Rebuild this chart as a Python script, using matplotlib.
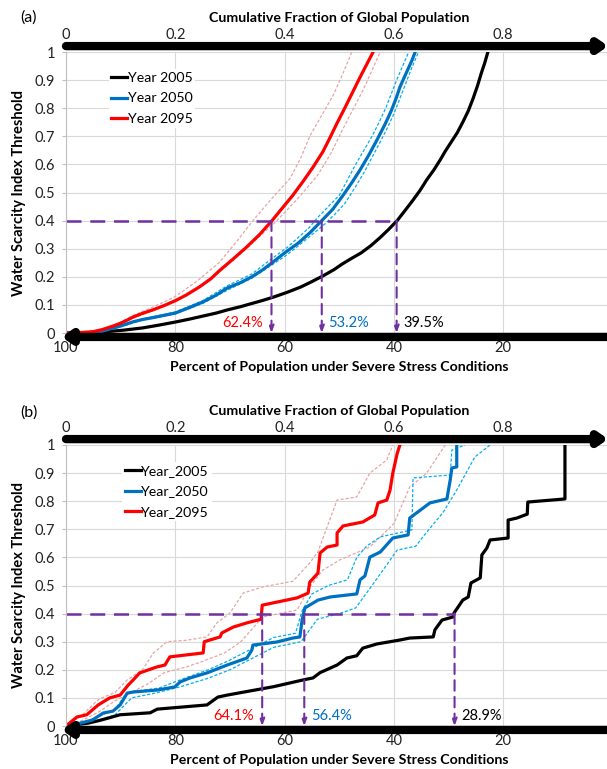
import matplotlib
matplotlib.use("Agg")
import matplotlib.pyplot as plt

plt.rcParams['font.family'] = ['Lato', 'DejaVu Sans']

# ---- panel (a) : smooth curves, x = percent of population, y = threshold
a_2005_x = [100, 96, 93, 89.5, 86, 83, 80, 77.5, 75, 72.5, 70.5, 68, 66, 64, 62, 59.5, 57, 55, 53, 51, 49.5, 47.8, 46,
            44.2, 42.5, 41, 39.4, 38, 36.5, 35.2, 34, 32.7, 31.5, 30.5, 29.5, 28.4, 27.4, 26.4, 25.5, 24.7, 24, 23.4, 22.8]
a_2005_y = [0, 0.001, 0.004, 0.01, 0.018, 0.028, 0.039, 0.049, 0.06, 0.071, 0.082, 0.094, 0.105, 0.116, 0.128, 0.145, 0.164,
            0.183, 0.203, 0.225, 0.245, 0.265, 0.285, 0.311, 0.34, 0.368, 0.4, 0.435, 0.473, 0.508, 0.545, 0.58, 0.617, 0.65,
            0.68, 0.713, 0.75, 0.79, 0.835, 0.88, 0.925, 0.96, 1.0]

a_2050_x = [100, 95, 93.8, 92, 90, 87.7, 86, 84, 82, 80, 77.5, 75, 72.5, 70.5, 68, 66, 64, 62.1, 60, 57.5, 55.3, 53.2,
            51.2, 49.3, 47.7, 46.2, 44.6, 43.1, 41.7, 40.5, 39.6, 38.9, 38.1, 37.4, 36.7, 36.1]
a_2050_y = [0, 0, 0.004, 0.014, 0.025, 0.04, 0.048, 0.055, 0.063, 0.071, 0.09, 0.11, 0.135, 0.16, 0.18, 0.2, 0.225, 0.253,
            0.285, 0.32, 0.358, 0.4, 0.44, 0.49, 0.535, 0.58, 0.633, 0.687, 0.74, 0.79, 0.835, 0.875, 0.91, 0.94, 0.97, 1.0]
a_2050_hi_x = [100, 93.8, 90, 86, 80, 75, 70.5, 66, 62.1, 59.5, 57.5, 55.5, 54, 52, 50, 48.5, 47, 45.5, 44, 42.7, 41.5, 40.5, 39.5, 38.4, 37.3]
a_2050_hi_y = [0, 0.005, 0.028, 0.05, 0.075, 0.115, 0.168, 0.21, 0.268, 0.305, 0.34, 0.375, 0.41, 0.45, 0.49, 0.545, 0.6, 0.65,
               0.7, 0.75, 0.8, 0.85, 0.9, 0.95, 1.0]
a_2050_lo_x = [100, 93.8, 90, 86, 80, 75, 70.5, 66, 62.1, 59.8, 57.5, 55, 52.5, 50.7, 49, 47.2, 45.5, 44, 42.5, 41.2, 40, 39, 38, 36.8, 35.5]
a_2050_lo_y = [0, 0.003, 0.022, 0.046, 0.068, 0.105, 0.152, 0.195, 0.245, 0.275, 0.31, 0.35, 0.39, 0.425, 0.46, 0.515, 0.57,
               0.625, 0.68, 0.73, 0.78, 0.83, 0.88, 0.94, 1.0]

a_2095_x = [100, 97, 95, 93.4, 91.5, 90, 88.8, 87.7, 86, 84, 82, 80, 78, 75.5, 73.5, 71.8, 69.5, 67, 64.6, 62.3, 60.4, 58.5,
            56.6, 54.8, 53, 51.7, 50.4, 49, 47.6, 46.2, 45, 43.8]
a_2095_y = [0, 0.002, 0.005, 0.012, 0.024, 0.035, 0.046, 0.057, 0.07, 0.083, 0.098, 0.115, 0.135, 0.165, 0.193, 0.224, 0.262,
            0.305, 0.35, 0.4, 0.445, 0.49, 0.54, 0.59, 0.645, 0.695, 0.747, 0.8, 0.855, 0.91, 0.955, 1.0]
a_2095_hi_x = [100, 96, 93, 90.5, 88, 84, 80, 76, 72, 69, 65.8, 62.5, 59, 57, 55.4, 53.2, 51, 49.3, 47.7]
a_2095_hi_y = [0, 0.003, 0.012, 0.033, 0.06, 0.093, 0.13, 0.185, 0.25, 0.32, 0.4, 0.475, 0.55, 0.625, 0.7, 0.775, 0.85, 0.925, 1.0]
a_2095_lo_x = [100, 96, 93, 90.5, 88, 84, 80, 76, 72, 67, 61.4, 57.5, 54, 51.5, 49.5, 47.5, 45.5, 44, 42.5]
a_2095_lo_y = [0, 0.002, 0.008, 0.027, 0.05, 0.08, 0.115, 0.16, 0.215, 0.3, 0.4, 0.48, 0.56, 0.64, 0.72, 0.795, 0.87, 0.935, 1.0]

# ---- panel (b) : stepped curves
b_2005_x = [100, 96, 93.8, 90.1, 84.6, 83.3, 74.2, 72.2, 70.5, 62, 56.6, 54.8, 53.5, 50.4, 48.6, 46.8, 45.7, 43.1, 38.9, 37.1,
            32.8, 32.5, 31.2, 29.2, 29.0, 27.4, 26.4, 25.9, 24.2, 23.9, 23.0, 22.4, 19.1, 19.1, 17.5, 15.6, 15.5, 8.7, 8.7]
b_2005_y = [0, 0.01, 0.02, 0.04, 0.047, 0.06, 0.075, 0.103, 0.11, 0.14, 0.164, 0.171, 0.19, 0.217, 0.242, 0.25, 0.277, 0.292, 0.306, 0.313,
            0.317, 0.342, 0.377, 0.388, 0.402, 0.448, 0.459, 0.509, 0.527, 0.609, 0.633, 0.662, 0.669, 0.733, 0.74, 0.754, 0.797, 0.808, 1.0]

b_2050_x = [100, 97.4, 95.2, 93.2, 91.4, 90.1, 88.8, 87.7, 83.3, 80.1, 79.1, 77.3, 74.2, 70.5, 66.9, 66.0, 65.8, 61.4, 58.5, 57.2,
            56.8, 56.3, 53.9, 51.7, 46.8, 46.2, 45.3, 44.4, 42.5, 40.2, 37.4, 37.1, 33.4, 30.3, 29.7, 29.4, 28.5, 28.5]
b_2050_y = [0, 0.01, 0.021, 0.046, 0.053, 0.075, 0.117, 0.121, 0.128, 0.139, 0.157, 0.171, 0.189, 0.217, 0.242, 0.27, 0.288, 0.299, 0.313, 0.317,
            0.377, 0.42, 0.448, 0.459, 0.47, 0.52, 0.534, 0.601, 0.619, 0.669, 0.68, 0.74, 0.794, 0.808, 0.875, 0.918, 0.922, 1.0]
b_2050_hi_x = [100, 95, 91, 88.8, 83, 79, 74, 70.5, 66, 62, 58, 56.8, 55, 52, 48.5, 46.8, 45, 42.5, 36.7, 36.5, 29.7, 29.4, 27]
b_2050_hi_y = [0, 0.025, 0.06, 0.12, 0.135, 0.165, 0.2, 0.23, 0.275, 0.315, 0.33, 0.41, 0.47, 0.5, 0.52, 0.6, 0.64, 0.673, 0.698, 0.883, 0.893, 0.982, 1.0]
b_2050_lo_x = [100, 95, 91, 88, 83, 79, 74, 70, 66, 62, 57, 54, 50, 47, 44, 39.4, 36, 34.7, 31, 28.5, 25.2, 22.4]
b_2050_lo_y = [0, 0.015, 0.04, 0.1, 0.12, 0.14, 0.17, 0.2, 0.24, 0.28, 0.3, 0.38, 0.4, 0.42, 0.5, 0.626, 0.64, 0.673, 0.76, 0.84, 0.957, 1.0]

b_2095_x = [100, 98.0, 96.2, 94.1, 92, 90.1, 88.6, 87.7, 86.5, 83.4, 81.9, 81, 74.9, 74.7, 71.8, 71.5, 69.4, 66.9, 64.3, 64.1,
            57.7, 55.7, 55.4, 53.9, 53.5, 52.2, 50.4, 50.4, 49.3, 45.7, 43.5, 42.9, 41.3, 40.7, 40.2, 39.4, 38.9]
b_2095_y = [0, 0.032, 0.04, 0.075, 0.1, 0.11, 0.146, 0.164, 0.189, 0.21, 0.217, 0.246, 0.26, 0.3, 0.317, 0.331, 0.352, 0.367, 0.38, 0.43,
            0.456, 0.473, 0.512, 0.544, 0.616, 0.637, 0.644, 0.687, 0.712, 0.726, 0.751, 0.794, 0.804, 0.84, 0.9, 0.97, 1.0]
b_2095_hi_x = [100, 97, 94, 91, 88.8, 86, 84, 81.5, 78, 74.2, 72.4, 70, 67.6, 64, 58.5, 55.4, 53.9, 52, 50.4, 46.8, 44.4, 41.3, 40.2]
b_2095_hi_y = [0, 0.04, 0.095, 0.12, 0.164, 0.2, 0.26, 0.3, 0.305, 0.317, 0.367, 0.402, 0.473, 0.495, 0.515, 0.58, 0.62, 0.72, 0.804, 0.815, 0.9, 0.947, 1.0]
b_2095_lo_x = [100, 97, 94, 91, 88, 85, 82, 78, 75, 71, 68, 64, 57.7, 55.4, 53, 49.9, 44.4, 40, 37.1, 34, 30.6]
b_2095_lo_y = [0, 0.02, 0.05, 0.09, 0.12, 0.15, 0.19, 0.21, 0.23, 0.26, 0.3, 0.388, 0.413, 0.495, 0.555, 0.591, 0.637, 0.72, 0.851, 0.9, 1.0]

threshold = 0.4
a_marks = [62.4, 53.2, 39.5]
b_marks = [64.1, 56.4, 28.9]
mark_colors = ['#FF0000', '#0070C0', '#000000']
a_labels = ['Year 2005', 'Year 2050', 'Year 2095']
b_labels = ['Year_2005', 'Year_2050', 'Year_2095']

C_BLACK = '#000000'
C_BLUE = '#0070C0'
C_RED = '#FF0000'
C_BLUE_D = '#00B0F0'
C_RED_D = '#E6A5A5'
C_PURPLE = '#7030A0'

W, H = 607, 769
fig = plt.figure(figsize=(W / 100, H / 100), dpi=100)


def setup(ax, tag):
    ax.set_xlim(100, 0)
    ax.set_ylim(0, 1)
    ax.set_xticks([100, 80, 60, 40, 20, 0])
    ax.set_xticklabels(['100', '80', '60', '40', '20', '0'])
    ax.set_yticks([i / 10 for i in range(11)])
    ax.set_yticklabels(['0', '0.1', '0.2', '0.3', '0.4', '0.5', '0.6', '0.7', '0.8', '0.9', '1'])
    ax.grid(True, color='#D9D9D9', lw=0.8)
    ax.set_axisbelow(True)
    for s in ['top', 'right', 'bottom']:
        ax.spines[s].set_visible(False)
    ax.spines['left'].set_color('#BFBFBF')
    ax.tick_params(axis='y', length=3, color='#BFBFBF', labelsize=10.5, pad=5, labelcolor='#222222')
    ax.tick_params(axis='x', length=0, labelsize=10.5, pad=6, labelcolor='#222222')
    ax.set_xlabel('Percent of Population under Severe Stress Conditions', fontsize=10.2,
                  fontweight='bold', labelpad=4)
    ax.set_ylabel('Water Scarcity Index Threshold', fontsize=10.5, fontweight='bold', labelpad=6)

    top = ax.secondary_xaxis('top', functions=(lambda p: (100 - p) / 100, lambda f: 100 - 100 * f))
    top.set_xticks([0, 0.2, 0.4, 0.6, 0.8])
    top.set_xticklabels(['0', '0.2', '0.4', '0.6', '0.8'])
    top.tick_params(length=0, labelsize=10.5, pad=7, labelcolor='#222222')
    top.spines['top'].set_visible(False)
    top.set_xlabel('Cumulative Fraction of Global Population', fontsize=10.2, fontweight='bold', labelpad=4.5)

    # thick arrow axes
    ax.annotate('', xy=(0.992, 1.021), xytext=(0.0, 1.021), xycoords='axes fraction',
                arrowprops=dict(arrowstyle='-|>,head_length=0.5,head_width=0.35', lw=6, color='black',
                                shrinkA=0, shrinkB=0), annotation_clip=False)
    ax.annotate('', xy=(-0.008, -0.014), xytext=(1.05, -0.014), xycoords='axes fraction',
                arrowprops=dict(arrowstyle='-|>,head_length=0.5,head_width=0.35', lw=6, color='black',
                                shrinkA=0, shrinkB=0), annotation_clip=False)
    fig.text(20 / W, 1 - tag[1] / H, tag[0], fontsize=11.5, ha='left', va='center')


def marks(ax, xs):
    ax.plot([100, min(xs)], [threshold, threshold], color=C_PURPLE, lw=1.8, dashes=(6, 3.5))
    for x in xs:
        ax.annotate('', xy=(x, 0.0), xytext=(x, threshold),
                    arrowprops=dict(arrowstyle='-|>,head_length=0.4,head_width=0.15', lw=1.5,
                                    color=C_PURPLE, linestyle=(0, (5, 3)), shrinkA=0, shrinkB=0))


def draw(ax, hi_lo, mains, labels, xs, texts, anchor):
    for (x, y, c) in hi_lo:
        ax.plot(x, y, color=c, lw=0.9, ls=(0, (2.5, 1.5)))
    handles = []
    for (x, y, c) in mains:
        h, = ax.plot(x, y, color=c, lw=2.3)
        handles.append(h)
    marks(ax, xs)
    ax.text(xs[0] + 1.5, 0.035, texts[0], color=mark_colors[0], fontsize=10.5, ha='right', va='center')
    ax.text(xs[1] - 1.2, 0.035, texts[1], color=mark_colors[1], fontsize=10.5, ha='left', va='center')
    ax.text(xs[2] - 1.2, 0.035, texts[2], color=mark_colors[2], fontsize=10.5, ha='left', va='center')
    ax.legend(handles, labels, loc='upper left', bbox_to_anchor=anchor, frameon=True,
              edgecolor='none', facecolor='white', framealpha=1, fontsize=10.2, handlelength=1.1,
              handletextpad=0.05, labelspacing=0.62, borderpad=0.2, borderaxespad=0)


ax1 = fig.add_axes([66 / W, 1 - 333 / H, 546.5 / W, 281 / H])
setup(ax1, ('(a)', 18))
draw(ax1,
     [(a_2095_hi_x, a_2095_hi_y, C_RED_D), (a_2095_lo_x, a_2095_lo_y, C_RED_D),
      (a_2050_hi_x, a_2050_hi_y, C_BLUE_D), (a_2050_lo_x, a_2050_lo_y, C_BLUE_D)],
     [(a_2005_x, a_2005_y, C_BLACK), (a_2050_x, a_2050_y, C_BLUE), (a_2095_x, a_2095_y, C_RED)],
     a_labels, a_marks, ['62.4%', '53.2%', '39.5%'], (0.078, 0.94))

ax2 = fig.add_axes([66 / W, 1 - 726 / H, 546.5 / W, 281 / H])
setup(ax2, ('(b)', 413))
draw(ax2,
     [(b_2095_hi_x, b_2095_hi_y, C_RED_D), (b_2095_lo_x, b_2095_lo_y, C_RED_D),
      (b_2050_hi_x, b_2050_hi_y, C_BLUE_D), (b_2050_lo_x, b_2050_lo_y, C_BLUE_D)],
     [(b_2005_x, b_2005_y, C_BLACK), (b_2050_x, b_2050_y, C_BLUE), (b_2095_x, b_2095_y, C_RED)],
     b_labels, b_marks, ['64.1%', '56.4%', '28.9%'], (0.103, 0.94))

fig.savefig('out.png', dpi=100)
